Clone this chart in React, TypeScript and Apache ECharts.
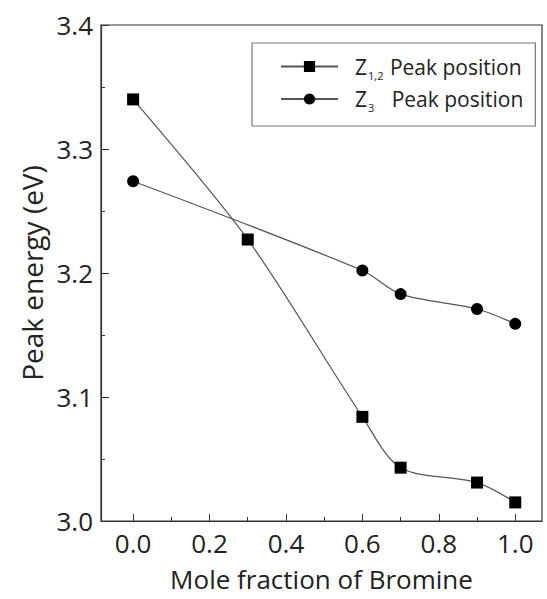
import React, { useEffect, useRef } from "react";
import * as echarts from "echarts";

const xValues = [0.0, 0.3, 0.6, 0.7, 0.9, 1.0];
const z12Values = [3.34, 3.227, 3.084, 3.043, 3.031, 3.015];
const z3X = [0.0, 0.6, 0.7, 0.9, 1.0];
const z3Values = [3.274, 3.202, 3.183, 3.171, 3.159];
const xMajorTicks = [0.0, 0.2, 0.4, 0.6, 0.8, 1.0];
const xMinorTicks = [0.1, 0.3, 0.5, 0.7, 0.9];
const seriesNames = ["Z12", "Z3"];

const FONT = "'Open Sans', 'Noto Sans', sans-serif";
const TXT = "#222";

export default function App() {
  const ref = useRef<HTMLDivElement>(null);
  useEffect(() => {
    if (!ref.current) return;
    const chart = echarts.init(ref.current, undefined, { renderer: "svg" });
    chart.setOption({
      animation: false,
      backgroundColor: "#fff",
      grid: {
        left: 101,
        top: 25,
        right: 5,
        bottom: 78,
        show: true,
        borderColor: "#333",
        borderWidth: 1.2,
      },
      legend: {
        left: 252,
        top: 43,
        orient: "vertical",
        data: seriesNames,
        itemWidth: 57,
        itemHeight: 14,
        itemGap: 8,
        padding: [13, 12, 13, 28],
        borderColor: "#777",
        borderWidth: 1.2,
        selectedMode: false,
        formatter: (name: string) =>
          name === "Z12"
            ? "{z|Z}{s|1,2}{t| Peak position}"
            : "{z|Z}{s|3}{t|   Peak position}",
        textStyle: {
          fontFamily: FONT,
          fontSize: 21,
          color: TXT,
          rich: {
            z: { fontFamily: FONT, fontSize: 21, color: TXT, padding: [0, 0, 0, 12] },
            s: { fontFamily: FONT, fontSize: 11, color: TXT, padding: [17, 1, 0, 1] },
            t: { fontFamily: FONT, fontSize: 21, color: TXT },
          },
        },
      },
      xAxis: [
        {
          type: "value",
          min: -0.084,
          max: 1.07,
          position: "bottom",
          name: "Mole fraction of Bromine",
          nameLocation: "middle",
          nameGap: 45,
          nameTextStyle: { fontFamily: FONT, fontSize: 26, color: TXT },
          axisLine: { show: true, onZero: false, lineStyle: { color: "#333", width: 1.2 } },
          axisTick: {
            show: true,
            inside: true,
            length: 7,
            customValues: xMajorTicks,
            lineStyle: { color: "#333" },
          },
          axisLabel: {
            customValues: xMajorTicks,
            formatter: (v: number) => v.toFixed(1),
            fontFamily: FONT,
            fontSize: 26,
            color: TXT,
            margin: 9,
          },
          splitLine: { show: false },
        },
        {
          type: "value",
          min: -0.084,
          max: 1.07,
          position: "bottom",
          axisLine: { show: false, onZero: false },
          axisTick: {
            show: true,
            inside: true,
            length: 4,
            customValues: xMinorTicks,
            lineStyle: { color: "#333" },
          },
          axisLabel: { show: false },
          splitLine: { show: false },
        },
      ],
      yAxis: {
        type: "value",
        min: 3.0,
        max: 3.4,
        interval: 0.1,
        name: "Peak energy (eV)",
        nameLocation: "middle",
        nameGap: 55,
        nameTextStyle: { fontFamily: FONT, fontSize: 28, color: TXT },
        axisLine: { show: true, onZero: false, lineStyle: { color: "#333", width: 1.2 } },
        axisTick: { show: true, inside: true, length: 8, lineStyle: { color: "#333" } },
        minorTick: { show: true, splitNumber: 2, length: 4, lineStyle: { color: "#333" } },
        axisLabel: {
          formatter: (v: number) => v.toFixed(1),
          fontFamily: FONT,
          fontSize: 26,
          color: TXT,
          margin: 8,
        },
        splitLine: { show: false },
      },
      series: [
        {
          name: "Z12",
          type: "line",
          xAxisIndex: 0,
          data: xValues.map((x, i) => [x, z12Values[i]]),
          symbol: "rect",
          symbolSize: 12,
          smooth: 0.3,
          lineStyle: { color: "#555", width: 1.2 },
          itemStyle: { color: "#000" },
        },
        {
          name: "Z3",
          type: "line",
          xAxisIndex: 0,
          data: z3X.map((x, i) => [x, z3Values[i]]),
          symbol: "circle",
          symbolSize: 12,
          smooth: 0.3,
          lineStyle: { color: "#555", width: 1.2 },
          itemStyle: { color: "#000" },
        },
      ],
    });
    return () => chart.dispose();
  }, []);
  return (
    <div
      ref={ref}
      style={{ position: "fixed", left: 0, top: 0, width: 547, height: 599, background: "#fff" }}
    />
  );
}
